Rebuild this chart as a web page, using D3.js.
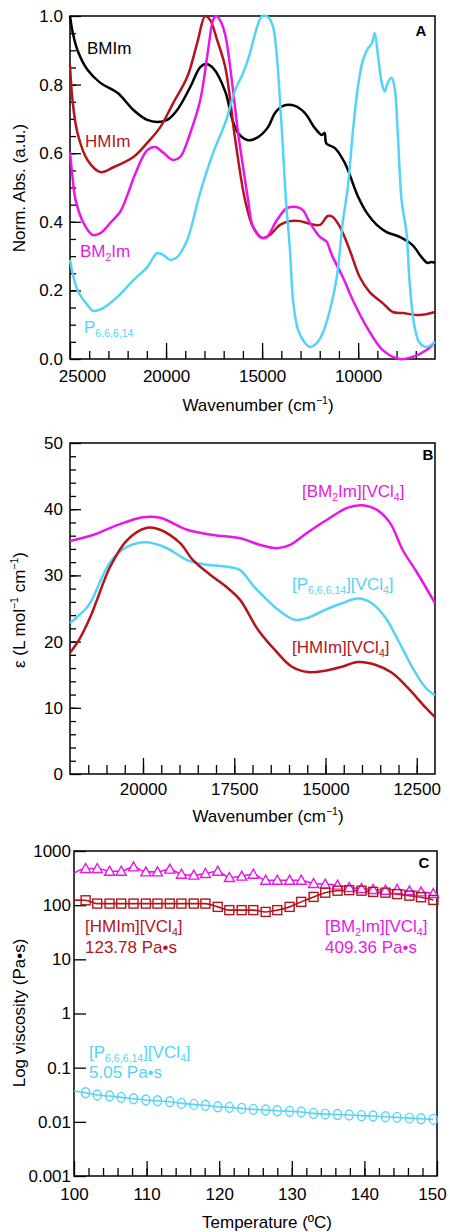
<!DOCTYPE html>
<html>
<head>
<meta charset="utf-8">
<script src="https://cdn.jsdelivr.net/npm/d3@7"></script>
<style>
  body { margin: 0; background: #fff; }
  svg text { font-family: "Liberation Sans", Arial, sans-serif; }
</style>
</head>
<body>
<svg id="chart" width="450" height="1232"></svg>
<script>
// ---- panel A : normalised absorbance vs wavenumber ----
var absBMIm = [[25000,1.0],[24870,0.955],[24610,0.9],[24090,0.843],[23420,0.805],[22530,0.776],[21700,0.726],[20980,0.697],[20460,0.691],[19940,0.697],[19420,0.726],[18740,0.793],[18220,0.851],[17910,0.860],[17550,0.848],[16920,0.78],[16560,0.70],[16250,0.659],[15730,0.638],[15210,0.647],[14690,0.676],[14330,0.717],[13910,0.738],[13290,0.738],[12770,0.717],[12250,0.673],[11890,0.653],[11750,0.659],[11650,0.628],[11210,0.615],[10690,0.571],[10020,0.475],[9550,0.426],[9030,0.391],[8520,0.370],[7840,0.356],[7170,0.332],[6700,0.297],[6390,0.280],[6180,0.283],[6000,0.280]];
var absHMIm = [[25000,0.857],[24870,0.755],[24610,0.659],[24090,0.580],[23420,0.545],[22740,0.559],[21700,0.589],[20980,0.630],[20300,0.676],[19630,0.746],[18900,0.822],[18380,0.921],[17960,1.0],[17700,0.988],[17340,0.930],[16920,0.851],[16400,0.64],[15890,0.464],[15470,0.385],[15000,0.353],[14590,0.362],[14070,0.391],[13550,0.402],[13030,0.402],[12510,0.394],[11990,0.391],[11580,0.417],[11320,0.414],[10950,0.385],[10440,0.318],[9920,0.239],[9400,0.195],[8720,0.163],[8200,0.137],[7680,0.134],[6800,0.128],[6000,0.137]];
var absBM2Im = [[25000,0.603],[24870,0.531],[24710,0.464],[24300,0.397],[23830,0.362],[23420,0.367],[22900,0.397],[22380,0.43],[22000,0.48],[21600,0.54],[20980,0.609],[20560,0.618],[20140,0.601],[19630,0.580],[19260,0.589],[18740,0.659],[18220,0.755],[17810,0.901],[17550,0.988],[17390,1.0],[17190,0.988],[16920,0.945],[16560,0.805],[16250,0.659],[15990,0.560],[15730,0.464],[15470,0.385],[15000,0.353],[14750,0.356],[14230,0.405],[13710,0.440],[13190,0.443],[12880,0.434],[12510,0.397],[11990,0.356],[11630,0.341],[11470,0.318],[11320,0.297],[10800,0.239],[10280,0.172],[9550,0.093],[8720,0.026],[7840,0.0],[7170,0.006],[6440,0.026],[6000,0.05]];
var absP = [[25000,0.289],[24610,0.201],[24090,0.157],[23780,0.140],[23260,0.149],[22530,0.181],[21700,0.230],[20980,0.268],[20460,0.309],[20140,0.303],[19780,0.289],[19420,0.297],[18900,0.347],[18590,0.405],[18330,0.464],[17550,0.601],[16920,0.688],[16400,0.784],[15990,0.834],[15630,0.892],[15260,0.968],[15000,1.0],[14690,0.997],[14430,0.968],[14230,0.880],[14070,0.755],[13910,0.609],[13760,0.464],[13550,0.318],[13390,0.172],[13130,0.085],[12770,0.047],[12510,0.035],[12150,0.047],[11840,0.076],[11470,0.143],[11110,0.239],[10800,0.40],[10540,0.50],[10280,0.66],[10020,0.79],[9760,0.87],[9500,0.905],[9290,0.92],[9140,0.95],[8980,0.89],[8770,0.805],[8620,0.78],[8460,0.805],[8260,0.82],[8100,0.79],[7940,0.66],[7740,0.464],[7480,0.367],[7320,0.222],[7060,0.093],[6800,0.047],[6440,0.035],[6000,0.05]];

// ---- panel B : molar absorptivity ----
var epsBM2Im = [[22000,35.2],[21370,36.1],[20710,37.6],[20000,38.8],[19530,38.7],[18790,36.9],[18080,36.1],[17340,35.6],[16790,34.6],[16330,34.1],[15970,34.6],[15510,36.4],[14960,38.4],[14410,40.2],[14000,40.6],[13590,39.9],[13230,37.9],[12880,33.8],[12490,30.4],[12000,25.8]];
var epsP = [[22000,22.8],[21810,23.7],[21530,25.2],[21400,26.3],[20900,32.0],[20440,34.3],[19890,35.0],[19340,34.1],[18790,32.3],[18250,31.6],[17700,31.3],[17340,30.8],[16990,28.5],[16600,26.3],[16300,24.8],[15840,23.3],[15480,23.6],[15010,24.8],[14550,25.8],[14110,26.5],[13730,25.8],[13370,23.7],[13010,20.2],[12630,16.2],[12270,13.1],[12000,11.9]];
var epsHMIm = [[22000,18.3],[21730,20.5],[21400,24.3],[21260,26.3],[20900,31.3],[20440,35.3],[19890,37.2],[19530,36.9],[18990,34.9],[18630,32.3],[18160,30.1],[17700,28.2],[17340,26.3],[16850,21.8],[16380,18.7],[15920,16.2],[15480,15.4],[15010,15.6],[14550,16.2],[14110,16.9],[13640,16.5],[13180,15.3],[12740,13.0],[12270,10.1],[12000,8.6]];

// ---- panel C : viscosity vs temperature ----
var tempC = [101.6,103.2,104.9,106.5,108.2,109.9,111.5,113.2,114.8,116.5,118.1,119.8,121.4,123.1,124.7,126.4,128.0,129.7,131.3,133.0,134.6,136.3,137.9,139.6,141.2,142.9,144.5,146.2,147.8,149.5];
var viscBM2Im = [475,475,424,424,509,411,411,462,373,358,384,424,324,343,373,289,289,289,289,251,244,234,212,203,195,189,195,184,176,164];
var viscHMIm = [123,107,107,107,107,107,107,107,107,107,107,93,81,81,81,75,81,93,115,142,170,185,189,185,176,170,160,150,140,125];
var viscP = [0.0344,0.0312,0.0299,0.0283,0.0267,0.0253,0.0245,0.0235,0.0219,0.0210,0.0202,0.0190,0.0185,0.0177,0.0170,0.0165,0.0160,0.0156,0.0152,0.0143,0.0139,0.0137,0.0134,0.0130,0.0128,0.0124,0.0121,0.0117,0.0114,0.0111];
var viscAt100 = { bm2im: 390, hmim: 123.78, p: 0.037 };

var aXTicks = [25000, 20000, 15000, 10000];
var aYTicks = [0, 0.2, 0.4, 0.6, 0.8, 1.0];
var bXTicks = [20000, 17500, 15000, 12500];
var bYTicks = [0, 10, 20, 30, 40, 50];
var cXTicks = [100, 110, 120, 130, 140, 150];
var cYTicks = [0.001, 0.01, 0.1, 1, 10, 100, 1000];

var BLACK = "#000", RED = "#b2151b", MAG = "#e817e8", CYAN = "#55d3f7";
var FS = 17;

var svg = d3.select("#chart");

// text with sub/superscript parts: [["BM"],["2","sub"],["Im"]]
function rich(g, x, y, parts, color, size, anchor) {
  size = size || FS;
  var t = g.append("text").
    attr("x", x).attr("y", y).
    attr("fill", color || BLACK).
    attr("text-anchor", anchor || "start").
    style("font-size", size + "px");
  var shift = 0;
  parts.forEach(function(p) {
    var kind = p[1] || "n";
    var target = kind === "sub" ? size * 0.22 : kind === "sup" ? -size * 0.4 : 0;
    var s = t.append("tspan").text(p[0]).attr("dy", target - shift);
    if (kind !== "n") s.style("font-size", (size * 0.62) + "px");
    shift = target;
  });
  return t;
}

function frame(o) {
  var x = o.x, y = o.y;
  var g = svg.append("g");
  var r = x.range(), d = y.range();
  // minor ticks
  g.append("g").attr("transform", "translate(0," + d[0] + ")").
    call(d3.axisBottom(x).tickValues(o.xMinor).tickSize(-o.xMinorLen).tickFormat(""));
  var gx = g.append("g").attr("transform", "translate(0," + d[0] + ")").
    call(d3.axisBottom(x).tickValues(o.xMajor).tickSize(-o.xMajorLen).tickPadding(o.xPad).tickFormat(o.xFormat));
  if (o.yMinor) {
    g.append("g").attr("transform", "translate(" + r[0] + ",0)").
      call(d3.axisLeft(y).tickValues(o.yMinor).tickSize(-o.yMinorLen).tickFormat(""));
  }
  g.append("g").attr("transform", "translate(" + r[0] + ",0)").
    call(d3.axisLeft(y).tickValues(o.yMajor).tickSize(-o.yMajorLen).tickPadding(o.yPad).tickFormat(o.yFormat));
  g.selectAll(".domain").remove();
  g.selectAll(".tick line").attr("stroke", BLACK).attr("stroke-width", 1.3);
  g.selectAll(".tick text").attr("fill", BLACK).style("font-size", FS + "px").
    style("font-family", '"Liberation Sans", Arial, sans-serif');
  // end labels nudged inside like the original
  if (o.xNudge) {
    gx.selectAll(".tick text").attr("dx", function(v) { return o.xNudge[v] || 0; });
  }
  g.append("rect").
    attr("x", r[0]).attr("y", d[1]).
    attr("width", r[1] - r[0]).attr("height", d[0] - d[1]).
    attr("fill", "none").attr("stroke", BLACK).attr("stroke-width", 1.5);
  return g;
}

function curve(data, x, y, color, w) {
  svg.append("path").
    datum(data).
    attr("fill", "none").
    attr("stroke", color).
    attr("stroke-width", w).
    attr("stroke-linejoin", "round").
    attr("d", d3.line().
      x(function(d) { return x(d[0]); }).
      y(function(d) { return y(d[1]); }).
      curve(d3.curveCatmullRom.alpha(0.5)));
}

// ================= A =================
var xA = d3.scaleLinear().domain([25000, 6000]).range([70, 435]);
var yA = d3.scaleLinear().domain([0, 1]).range([359, 16]);

frame({
  x: xA, y: yA,
  xMajor: aXTicks, xMinor: d3.range(7000, 25000, 1000), xMajorLen: 16, xMinorLen: 8, xPad: 11,
  xFormat: d3.format("d"), xNudge: { 25000: 12 },
  yMajor: aYTicks, yMinor: d3.range(0.05, 1, 0.05), yMajorLen: 11, yMinorLen: 6, yPad: 7,
  yFormat: d3.format(".1f")
});

curve(absBMIm, xA, yA, BLACK, 2.5);
curve(absHMIm, xA, yA, RED, 2.5);
curve(absBM2Im, xA, yA, MAG, 2.5);
curve(absP, xA, yA, CYAN, 2.5);

rich(svg, 87, 54, [["BMIm"]], BLACK);
rich(svg, 85, 147, [["HMIm"]], RED);
rich(svg, 80, 257, [["BM"], ["2", "sub"], ["Im"]], MAG);
rich(svg, 84, 333, [["P"], ["6,6,6,14", "sub"]], CYAN);
svg.append("text").attr("x", 421).attr("y", 36).attr("text-anchor", "middle").
  style("font-size", "15px").style("font-weight", "bold").text("A");

rich(svg, 258, 411, [["Wavenumber (cm"], ["\u22121", "sup"], [")"]], BLACK, FS, "middle");
rich(svg.append("g").attr("transform", "translate(25,188) rotate(-90)"), 0, 0,
  [["Norm. Abs. (a.u.)"]], BLACK, FS, "middle");

// ================= B =================
var xB = d3.scaleLinear().domain([22000, 12000]).range([70, 435]);
var yB = d3.scaleLinear().domain([0, 50]).range([774, 443]);

frame({
  x: xB, y: yB,
  xMajor: bXTicks, xMinor: d3.range(12500, 22000, 500), xMajorLen: 16, xMinorLen: 9, xPad: 9,
  xFormat: d3.format("d"),
  yMajor: bYTicks, yMinor: d3.range(2, 50, 2), yMajorLen: 11, yMinorLen: 6, yPad: 7,
  yFormat: d3.format("d")
});

curve(epsBM2Im, xB, yB, MAG, 2.5);
curve(epsP, xB, yB, CYAN, 2.5);
curve(epsHMIm, xB, yB, RED, 2.5);

rich(svg, 302, 497, [["[BM"], ["2", "sub"], ["Im][VCl"], ["4", "sub"], ["]"]], MAG);
rich(svg, 292, 590, [["[P"], ["6,6,6,14", "sub"], ["][VCl"], ["4", "sub"], ["]"]], CYAN);
rich(svg, 292, 653, [["[HMIm][VCl"], ["4", "sub"], ["]"]], RED);
svg.append("text").attr("x", 428).attr("y", 460).attr("text-anchor", "middle").
  style("font-size", "15px").style("font-weight", "bold").text("B");

rich(svg, 268, 822, [["Wavenumber (cm"], ["\u22121", "sup"], [")"]], BLACK, FS, "middle");
rich(svg.append("g").attr("transform", "translate(25,610) rotate(-90)"), 0, 0,
  [["\u03b5 (L mol"], ["\u22121", "sup"], [" cm"], ["\u22121", "sup"], [")"]], BLACK, FS, "middle");

// ================= C =================
var xC = d3.scaleLinear().domain([100, 150]).range([74, 437]);
var yC = d3.scaleLog().domain([0.001, 1000]).range([1176, 851]);

frame({
  x: xC, y: yC,
  xMajor: cXTicks, xMinor: d3.range(102, 150, 2), xMajorLen: 15, xMinorLen: 8, xPad: 12,
  xFormat: d3.format("d"), xNudge: { 150: -5 },
  yMajor: cYTicks, yMajorLen: 12, yPad: 3,
  yFormat: function(d) { return String(d); }
});

function viscLine(start, vals, color) {
  var pts = [[100, start]].concat(tempC.map(function(t, i) { return [t, vals[i]]; }));
  svg.append("path").
    datum(pts).
    attr("fill", "none").
    attr("stroke", color).
    attr("stroke-width", 1.6).
    attr("d", d3.line().
      x(function(d) { return xC(d[0]); }).
      y(function(d) { return yC(d[1]); }).
      curve(d3.curveMonotoneX));
}
viscLine(viscAt100.bm2im, viscBM2Im, MAG);
viscLine(viscAt100.hmim, viscHMIm, RED);
viscLine(viscAt100.p, viscP, CYAN);

svg.append("g").selectAll("path").
  data(tempC).enter().append("path").
  attr("transform", function(t, i) { return "translate(" + xC(t) + "," + yC(viscBM2Im[i]) + ")"; }).
  attr("d", "M0,-5L5,4L-5,4Z").
  attr("fill", "#fff").attr("stroke", MAG).attr("stroke-width", 1.4);

svg.append("g").selectAll("rect").
  data(tempC).enter().append("rect").
  attr("x", function(t) { return xC(t) - 4.5; }).
  attr("y", function(t, i) { return yC(viscHMIm[i]) - 4.5; }).
  attr("width", 9).attr("height", 9).
  attr("fill", "none").attr("stroke", RED).attr("stroke-width", 1.4);

svg.append("g").selectAll("ellipse").
  data(tempC).enter().append("ellipse").
  attr("cx", function(t) { return xC(t); }).
  attr("cy", function(t, i) { return yC(viscP[i]); }).
  attr("rx", 4).attr("ry", 5).
  attr("fill", "none").attr("stroke", CYAN).attr("stroke-width", 1.4);

rich(svg, 85, 932, [["[HMIm][VCl"], ["4", "sub"], ["]"]], RED);
rich(svg, 85, 953, [["123.78 Pa\u2022s"]], RED);
rich(svg, 325, 932, [["[BM"], ["2", "sub"], ["Im][VCl"], ["4", "sub"], ["]"]], MAG);
rich(svg, 325, 953, [["409.36 Pa\u2022s"]], MAG);
rich(svg, 89, 1058, [["[P"], ["6,6,6,14", "sub"], ["][VCl"], ["4", "sub"], ["]"]], CYAN);
rich(svg, 89, 1078, [["5.05 Pa\u2022s"]], CYAN);
svg.append("text").attr("x", 424).attr("y", 868).attr("text-anchor", "middle").
  style("font-size", "15px").style("font-weight", "bold").text("C");

rich(svg, 267, 1228, [["Temperature (\u00baC)"]], BLACK, FS, "middle");
rich(svg.append("g").attr("transform", "translate(25,1013) rotate(-90)"), 0, 0,
  [["Log viscosity (Pa\u2022s)"]], BLACK, FS, "middle");
</script>
</body>
</html>
